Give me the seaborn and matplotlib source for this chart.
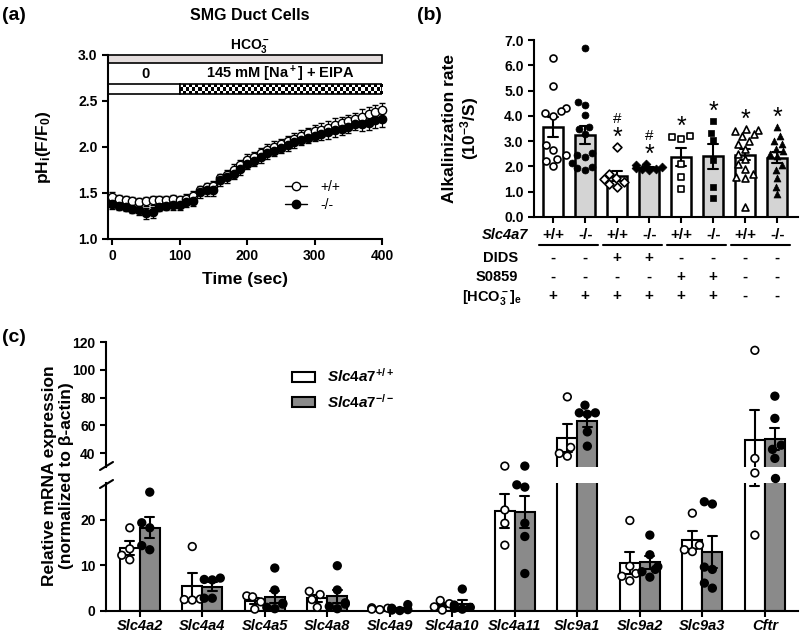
import matplotlib
matplotlib.use('Agg')
import matplotlib.pyplot as plt
import matplotlib.transforms as mtransforms
from matplotlib.lines import Line2D
from matplotlib.patches import Patch, Rectangle
import numpy as np
import pandas as pd
import seaborn as sns

# ---------------- panel (a): pHi recovery, SMG duct cells ----------------
time_sec = [0, 10, 20, 30, 40, 50, 60, 70, 80, 90, 100, 110, 120, 130, 140, 150,
            160, 170, 180, 190, 200, 210, 220, 230, 240, 250, 260, 270, 280, 290,
            300, 310, 320, 330, 340, 350, 360, 370, 380, 390, 400]
wt_ph = [1.46, 1.43, 1.42, 1.41, 1.40, 1.41, 1.42, 1.42, 1.42, 1.43, 1.42, 1.44,
         1.47, 1.53, 1.56, 1.58, 1.66, 1.70, 1.75, 1.80, 1.86, 1.89, 1.93, 1.97,
         2.00, 2.03, 2.06, 2.09, 2.12, 2.15, 2.17, 2.19, 2.21, 2.24, 2.26, 2.28,
         2.30, 2.33, 2.36, 2.38, 2.40]
wt_sem = [0.05, 0.05, 0.05, 0.05, 0.05, 0.05, 0.05, 0.05, 0.05, 0.05, 0.05, 0.05,
          0.05, 0.05, 0.05, 0.05, 0.05, 0.05, 0.06, 0.06, 0.06, 0.06, 0.06, 0.06,
          0.06, 0.06, 0.06, 0.06, 0.06, 0.06, 0.07, 0.07, 0.07, 0.07, 0.07, 0.07,
          0.07, 0.08, 0.08, 0.08, 0.08]
ko_ph = [1.38, 1.36, 1.35, 1.33, 1.31, 1.28, 1.29, 1.35, 1.36, 1.37, 1.37, 1.40,
         1.41, 1.51, 1.53, 1.53, 1.64, 1.67, 1.71, 1.76, 1.82, 1.85, 1.89, 1.93,
         1.96, 1.99, 2.02, 2.05, 2.08, 2.10, 2.12, 2.14, 2.16, 2.18, 2.20, 2.22,
         2.25, 2.25, 2.26, 2.29, 2.30]
ko_sem = [0.05, 0.05, 0.05, 0.05, 0.05, 0.06, 0.06, 0.05, 0.05, 0.05, 0.05, 0.05,
          0.05, 0.06, 0.06, 0.06, 0.06, 0.06, 0.06, 0.06, 0.06, 0.06, 0.06, 0.06,
          0.06, 0.06, 0.06, 0.06, 0.06, 0.06, 0.06, 0.06, 0.07, 0.07, 0.07, 0.07,
          0.07, 0.08, 0.08, 0.08, 0.08]
na_start = 100      # 145 mM Na+ + EIPA added
protocol_end = 400

# ---------------- panel (b): alkalinization rate ----------------
b_genotype = ['+/+', '-/-', '+/+', '-/-', '+/+', '-/-', '+/+', '-/-']
b_dids = ['-', '-', '+', '+', '-', '-', '-', '-']
b_s0859 = ['-', '-', '-', '-', '+', '+', '-', '-']
b_hco3 = ['+', '+', '+', '+', '+', '+', '-', '-']
b_markers = ['o', 'o', 'D', 'D', 's', 's', '^', '^']
b_points = [
    [6.3, 5.2, 4.3, 4.2, 4.1, 4.0, 2.85, 2.65, 2.45, 2.3, 2.2, 2.0],
    [6.7, 4.56, 4.43, 4.04, 3.57, 3.5, 3.3, 2.52, 2.45, 2.39, 2.12, 1.99, 1.93, 1.86],
    [2.78, 1.7, 1.55, 1.5, 1.4, 1.3, 1.2],
    [2.1, 2.05, 1.98, 1.93, 1.9, 1.88, 1.85],
    [3.1, 3.15, 3.2, 2.1, 1.6, 1.1],
    [3.81, 3.34, 3.05, 2.26, 1.2, 0.74],
    [3.5, 3.45, 3.4, 3.3, 3.2, 3.0, 2.9, 2.7, 2.5, 2.3, 2.1, 1.9, 1.7, 1.6, 1.55, 0.4],
    [3.55, 3.2, 3.0, 2.9, 2.7, 2.6, 2.5, 2.4, 2.05, 1.85, 1.55, 1.2, 0.9],
]
b_star = ['', '', '*', '*', '*', '*', '*', '*']
b_hash = ['', '', '#', '#', '', '', '', '']

# ---------------- panel (c): mRNA expression ----------------
genes = ['Slc4a2', 'Slc4a4', 'Slc4a5', 'Slc4a8', 'Slc4a9', 'Slc4a10',
         'Slc4a11', 'Slc9a1', 'Slc9a2', 'Slc9a3', 'Cftr']
c_wt = [
    [18.2, 13.6, 12.2, 11.2],
    [14.1, 2.6, 2.5, 2.4],
    [3.3, 3.1, 2.0, 0.4],
    [4.3, 3.6, 2.5, 0.8],
    [0.7, 0.6, 0.4, 0.3],
    [2.3, 1.6, 0.9, 0.2],
    [31.7, 22.1, 19.2, 14.4],
    [80.5, 44.1, 39.8, 37.8],
    [19.8, 9.8, 8.2, 7.6, 6.6],
    [21.4, 14.4, 13.4, 13.0],
    [114.0, 36.2, 30.2, 16.6],
]
c_ko = [
    [26.0, 19.3, 18.2, 14.3, 13.4],
    [7.2, 6.9, 6.8, 2.8, 2.8],
    [9.4, 4.6, 1.7, 1.5, 0.8, 0.5],
    [9.9, 4.6, 1.8, 1.5, 1.0, 0.5],
    [1.4, 0.6, 0.3, 0.2, 0.1],
    [4.8, 1.3, 0.8, 0.6, 0.4],
    [31.7, 27.6, 27.1, 19.2, 16.3, 8.2],
    [74.5, 69.0, 69.0, 68.0, 55.3, 45.0],
    [16.6, 12.3, 9.7, 9.1, 8.6, 7.4],
    [23.9, 23.4, 9.6, 9.1, 6.1, 5.0],
    [81.0, 65.0, 45.7, 42.7, 36.2, 29.2],
]
lo_top, hi_bottom = 28, 30   # broken y axis

# ---------------- style ----------------
sns.set_theme(style='ticks')
plt.rcParams['font.family'] = ['Liberation Sans', 'DejaVu Sans']
plt.rcParams.update({
    'font.weight': 'bold',
    'axes.labelweight': 'bold',
    'mathtext.fontset': 'custom',
    'mathtext.rm': 'Liberation Sans:bold',
    'mathtext.it': 'Liberation Sans:italic:bold',
    'mathtext.bf': 'Liberation Sans:bold',
    'axes.linewidth': 1.5,
    'axes.edgecolor': 'black',
    'axes.labelcolor': 'black',
    'text.color': 'black',
    'xtick.color': 'black',
    'ytick.color': 'black',
    'xtick.major.width': 1.5,
    'ytick.major.width': 1.5,
    'xtick.major.size': 4,
    'ytick.major.size': 4,
    'xtick.labelsize': 10,
    'ytick.labelsize': 10,
})

W, H = 800, 633
fig = plt.figure(figsize=(W / 100, H / 100), dpi=100)


def box(x0, y0, x1, y1):
    """pixel box (top-left origin) -> figure fraction rect"""
    return [x0 / W, 1 - y1 / H, (x1 - x0) / W, (y1 - y0) / H]


def fy(y):
    return 1 - y / H


ax_a = fig.add_axes(box(108, 55, 382, 239))
ax_b = fig.add_axes(box(534, 40, 798, 217))
ax_hi = fig.add_axes(box(106, 342, 798, 467))
ax_lo = fig.add_axes(box(106, 483, 798, 611))

# ---- (a) ----
for ph, sem, face in [(wt_ph, wt_sem, 'white'), (ko_ph, ko_sem, 'black')]:
    ax_a.errorbar(time_sec, ph, yerr=sem, fmt='-o', color='black', mfc=face, mec='black',
                  mew=1.0, ms=6, lw=1, elinewidth=0.8, capsize=2.5, capthick=0.8,
                  clip_on=False, zorder=3)
x_left = -6
ax_a.add_patch(Rectangle((x_left, 2.91), protocol_end - x_left, 0.09, facecolor='#e4dddd',
                         edgecolor='black', lw=1.2, clip_on=False))
ax_a.add_patch(Rectangle((x_left, 2.58), na_start - x_left, 0.10, facecolor='white',
                         edgecolor='black', lw=1.2))
checker = np.indices((3, 66)).sum(axis=0) % 2
ax_a.imshow(checker, extent=(na_start, protocol_end, 2.58, 2.68), cmap='gray_r',
            aspect='auto', interpolation='nearest', zorder=2)
ax_a.add_patch(Rectangle((na_start, 2.58), protocol_end - na_start, 0.10, fill=False,
                         edgecolor='black', lw=1.2, zorder=2.5))
ax_a.text(204, 3.1, 'HCO$_3^-$', ha='center', va='center', fontsize=10)
ax_a.text(49, 2.79, '0', ha='center', va='center', fontsize=10.5)
ax_a.text(249, 2.79, '145 mM [Na$^+$] + EIPA', ha='center', va='center', fontsize=10.5)
ax_a.set_xlim(x_left, protocol_end)
ax_a.set_ylim(1.0, 3.0)
ax_a.set_xticks([0, 100, 200, 300, 400])
ax_a.set_yticks([1.0, 1.5, 2.0, 2.5, 3.0])
ax_a.set_yticklabels(['1.0', '1.5', '2.0', '2.5', '3.0'])
ax_a.set_xlabel('Time (sec)', fontsize=12.5, labelpad=6)
ax_a.set_ylabel('pH$_\\mathrm{i}$(F/F$_0$)', fontsize=12.5)
ax_a.yaxis.set_label_coords(-0.2, 0.5)
sns.despine(ax=ax_a)
leg_handles = [Line2D([], [], color='black', marker='o', mfc=f, mec='black', ms=6, lw=1)
               for f in ('white', 'black')]
ax_a.legend(leg_handles, ['+/+', '-/-'], loc='center left',
            bbox_to_anchor=(272 / W, fy(196)), bbox_transform=fig.transFigure,
            frameon=False, handlelength=1.6, handletextpad=1.0, labelspacing=0.3,
            prop={'weight': 'normal', 'size': 10})
fig.text(250 / W, fy(15), 'SMG Duct Cells', ha='center', va='center', fontsize=11.5)

# ---- (b) ----
df_b = pd.DataFrame({'pos': [i for i, vals in enumerate(b_points) for _ in vals],
                     'rate': [v for vals in b_points for v in vals]})
df_b['genotype'] = [b_genotype[p] for p in df_b['pos']]
sns.barplot(data=df_b, x='pos', y='rate', hue='genotype', dodge=False, native_scale=True,
            palette={'+/+': 'white', '-/-': '#d4d4d4'}, width=0.62, errorbar='se',
            capsize=0.3, saturation=1, edgecolor='black', linewidth=1.8,
            err_kws={'color': 'black', 'linewidth': 1.5}, legend=False, orient='x', ax=ax_b)
for i, vals in enumerate(b_points):
    sub = df_b[df_b['pos'] == i]
    is_open = b_genotype[i] == '+/+'
    sns.swarmplot(data=sub, x='pos', y='rate', native_scale=True, orient='x',
                  marker=b_markers[i], color='white' if is_open else 'black',
                  edgecolor='black', linewidth=1.2 if is_open else 0.5,
                  size=4.5 if b_markers[i] == 'D' else 5, ax=ax_b)
    if b_star[i]:
        star = ax_b.text(i, max(vals) + 0.08, b_star[i], ha='center', va='baseline',
                         fontsize=18, fontweight='normal')
        if b_hash[i]:
            ax_b.annotate(b_hash[i], xy=(0.5, 1.0), xycoords=star, ha='center',
                          va='bottom', fontsize=11, fontweight='normal')
ax_b.set_xlim(-0.6, 7.65)
ax_b.set_ylim(0, 7)
ax_b.set_yticks(range(8))
ax_b.set_yticklabels([f'{v:.1f}' for v in range(8)])
ax_b.set_xticks(range(8))
ax_b.set_xticklabels([])
ax_b.set_xlabel('')
ax_b.set_ylabel('Alkalinization rate\n(10$^{-3}$/S)', fontsize=12.5, linespacing=1.1)
ax_b.yaxis.set_label_coords(-0.2, 0.5)
sns.despine(ax=ax_b)

trans_b = mtransforms.blended_transform_factory(ax_b.transData, fig.transFigure)
table_rows = [(b_genotype, 235), (b_dids, 258), (b_s0859, 277), (b_hco3, 296)]
for signs, y in table_rows:
    for i, s in enumerate(signs):
        ax_b.text(i, fy(y), s, transform=trans_b, ha='center', va='center', fontsize=11)
for k in range(0, 8, 2):
    ax_b.plot([k - 0.45, k + 1.4], [fy(245), fy(245)], color='black', lw=1.5,
              transform=trans_b, clip_on=False)
fig.text(528 / W, fy(235), 'Slc4a7', ha='right', va='center', fontsize=10.5, style='italic')
fig.text(518 / W, fy(258), 'DIDS', ha='right', va='center', fontsize=10.5)
fig.text(518 / W, fy(277), 'S0859', ha='right', va='center', fontsize=10.5)
fig.text(522 / W, fy(297), '[HCO$_3^-$]$_\\mathrm{e}$', ha='right', va='center', fontsize=10.5)

# ---- (c) ----
rows = []
for gi in range(len(genes)):
    for geno, pts, off in (('WT', c_wt[gi], -0.16), ('KO', c_ko[gi], 0.16)):
        for v in pts:
            rows.append((gi + off, geno, v))
df_c = pd.DataFrame(rows, columns=['pos', 'genotype', 'value'])
bar_pal = {'WT': 'white', 'KO': '#8a8a8a'}
dot_pal = {'WT': 'white', 'KO': 'black'}
for ax, pts in ((ax_lo, df_c[df_c['value'] <= 32]), (ax_hi, df_c[df_c['value'] > 32])):
    sns.barplot(data=df_c, x='pos', y='value', hue='genotype', dodge=False,
                native_scale=True, palette=bar_pal, width=1.0, errorbar='se',
                capsize=0.45, saturation=1, edgecolor='black', linewidth=1.5,
                err_kws={'color': 'black', 'linewidth': 1.5}, legend=False,
                orient='x', ax=ax)
    sns.swarmplot(data=pts, x='pos', y='value', hue='genotype', dodge=False,
                  native_scale=True, palette=dot_pal, edgecolor='black', linewidth=1.2,
                  size=5.5, legend=False, orient='x', ax=ax)
    ax.set_xlim(-0.54, 10.53)
    ax.set_xlabel('')
    ax.set_ylabel('')
for coll in ax_lo.collections:
    coll.set_clip_on(False)

ax_lo.set_ylim(0, lo_top)
ax_lo.set_yticks([0, 10, 20])
ax_lo.set_xticks(range(len(genes)))
ax_lo.set_xticklabels(genes, fontsize=10.5, style='italic')
ax_lo.tick_params(axis='x', pad=1.5)
sns.despine(ax=ax_lo)
ax_hi.set_ylim(hi_bottom, 120)
ax_hi.set_yticks([40, 60, 80, 100, 120])
ax_hi.tick_params(axis='x', bottom=False, labelbottom=False)
sns.despine(ax=ax_hi, bottom=True)

# axis-break marks
for y0 in (470, 488):
    fig.add_artist(Line2D([100 / W, 113 / W], [fy(y0), fy(y0 - 8)], color='black', lw=1.5))

fig.text(58 / W, fy(476), 'Relative mRNA expression\n(normalized to β-actin)', rotation=90,
         ha='center', va='center', fontsize=12.5, multialignment='center', linespacing=1.1)
ax_hi.legend([Patch(fc='white', ec='black', lw=1.5), Patch(fc='#8a8a8a', ec='black', lw=1.5)],
             ['$Slc4a7^{+/+}$', '$Slc4a7^{-/-}$'], loc='center left',
             bbox_to_anchor=(278 / W, fy(389)), bbox_transform=fig.transFigure,
             frameon=False, fontsize=11, handlelength=1.5, handleheight=0.6,
             labelspacing=0.5, handletextpad=0.8)

# panel letters
fig.text(2 / W, fy(15), '(a)', ha='left', va='center', fontsize=14)
fig.text(417 / W, fy(15), '(b)', ha='left', va='center', fontsize=14)
fig.text(2 / W, fy(338), '(c)', ha='left', va='center', fontsize=14)

fig.savefig('out.png', dpi=100)
